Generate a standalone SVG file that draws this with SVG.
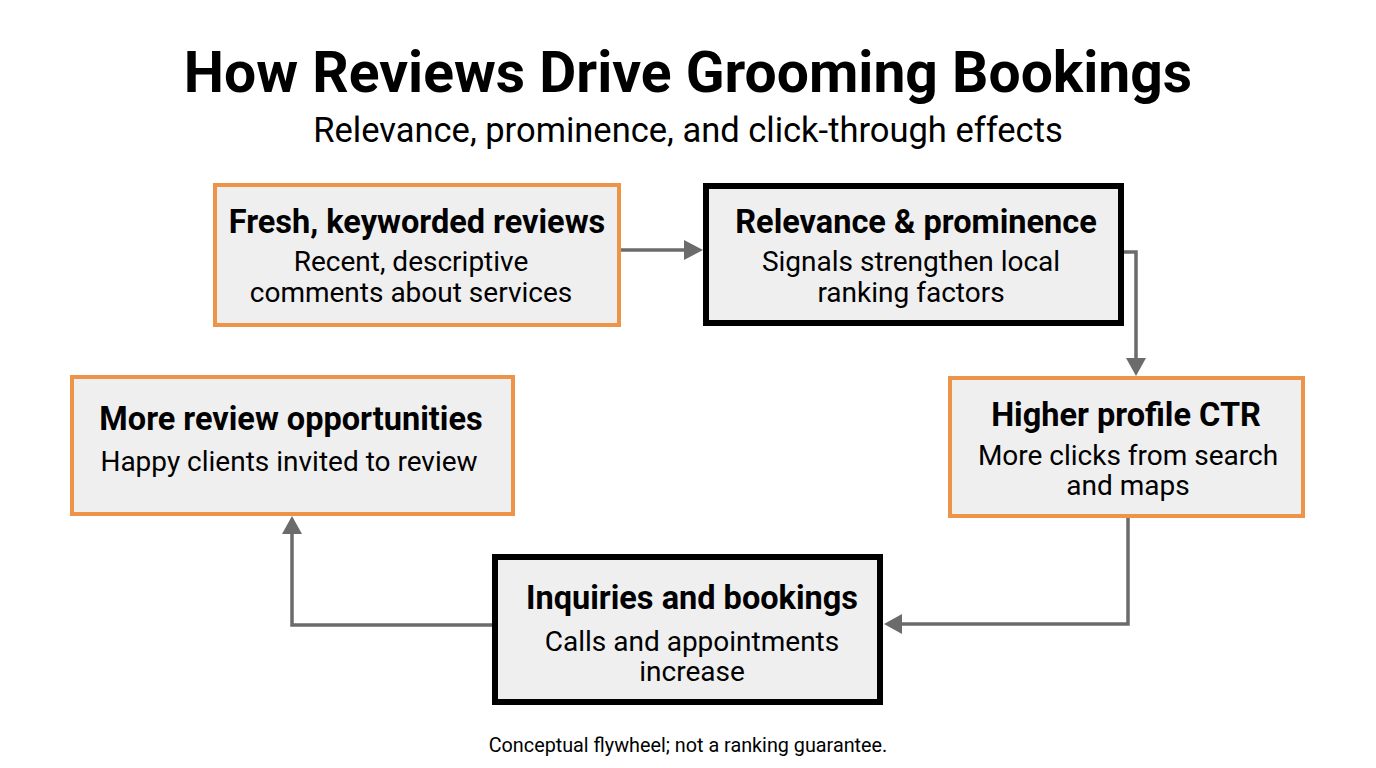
<svg xmlns="http://www.w3.org/2000/svg" width="1376" height="768" viewBox="0 0 1376 768">
<style>
.o{fill:#efefef;stroke:#ee9448;stroke-width:4}
.k{fill:#efefef;stroke:#000;stroke-width:6}
text{font-family:Roboto,"Liberation Sans",sans-serif;text-anchor:middle;fill:#000}
.t{font-weight:bold;font-size:32.5px}
.b{font-size:28px}
.c{fill:none;stroke:#6b6b6b;stroke-width:3.5}
</style>
<rect width="1376" height="768" fill="#fff"/>
<text x="688" y="92" style="font-weight:bold;font-size:57px">How Reviews Drive Grooming Bookings</text>
<text x="688" y="142" style="font-size:34.5px">Relevance, prominence, and click-through effects</text>
<g id="connectors">
<path class="c" d="M621,250H692"/>
<path d="M684,240L684,260L703,250z" fill="#6b6b6b"/>
<path class="c" d="M1123,252H1136V364"/>
<path d="M1126,358L1146,358L1136,376z" fill="#6b6b6b"/>
<path class="c" d="M1128,518V624H900"/>
<path d="M902,614L902,634L884,624z" fill="#6b6b6b"/>
<path class="c" d="M493,625H292V532"/>
<path d="M282,534L302,534L292,516z" fill="#6b6b6b"/>
</g>
<g id="n1"><rect class="o" x="215" y="185" width="404" height="140"/>
<text class="t" x="417" y="233">Fresh, keyworded reviews</text>
<text class="b" x="411" y="271">Recent, descriptive</text><text class="b" x="411" y="302">comments about services</text></g>
<g id="n2"><rect class="k" x="706" y="186" width="415" height="137"/>
<text class="t" x="916" y="233">Relevance &amp; prominence</text>
<text class="b" x="911" y="271">Signals strengthen local</text><text class="b" x="911" y="302">ranking factors</text></g>
<g id="n3"><rect class="o" x="950" y="378" width="353" height="138"/>
<text class="t" x="1126" y="426">Higher profile CTR</text>
<text class="b" x="1128" y="465">More clicks from search</text><text class="b" x="1128" y="495">and maps</text></g>
<g id="n4"><rect class="o" x="72" y="377" width="441" height="137"/>
<text class="t" x="291" y="430">More review opportunities</text>
<text class="b" x="289" y="471">Happy clients invited to review</text></g>
<g id="n5"><rect class="k" x="495" y="557" width="385" height="145"/>
<text class="t" x="692" y="609">Inquiries and bookings</text>
<text class="b" x="692" y="651">Calls and appointments</text><text class="b" x="692" y="681">increase</text></g>
<text x="688" y="752" style="font-size:19.8px">Conceptual flywheel; not a ranking guarantee.</text>
</svg>
